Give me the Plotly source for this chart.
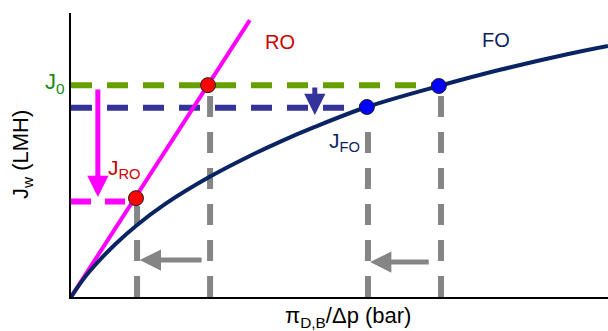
import plotly.graph_objects as go

# ---- data (arbitrary units, x: 0..10, y: 0..10) ----
fo_x = [0, 0.26, 0.51, 0.82, 1.22, 1.75, 2.59, 3.30, 3.92, 4.54, 5.51, 6.85, 7.99, 9.24, 10.0]
fo_y = [0, 0.70, 1.25, 1.85, 2.52, 3.27, 4.24, 4.94, 5.49, 5.99, 6.69, 7.43, 8.00, 8.55, 8.84]
ro_x = [0, 3.33]
ro_y = [0, 9.75]

J0 = 7.46
JFO = 6.66
JRO = 3.36
ro_pts_x = [2.55, 1.21]
ro_pts_y = [7.46, 3.48]
fo_pts_x = [6.85, 5.51]
fo_pts_y = [7.43, 6.69]

gray_x = [1.23, 2.59, 5.53, 6.89]
gray_top = [3.2, 7.1, 6.34, 7.1]

W, H = 608, 331
fig = go.Figure()

GRAY = "#858585"
DASH = "21px,15px"

# gray vertical dashed lines (drawn from the axis upward)
for gx, gt in zip(gray_x, gray_top):
    fig.add_trace(go.Scatter(x=[gx, gx], y=[0, gt], mode="lines",
                             line=dict(color=GRAY, width=6, dash=DASH),
                             hoverinfo="skip"))

# horizontal dashed lines
fig.add_trace(go.Scatter(x=[0, fo_pts_x[0]], y=[J0, J0], mode="lines",
                         line=dict(color="#66a000", width=6, dash=DASH)))
fig.add_trace(go.Scatter(x=[0, fo_pts_x[1]], y=[JFO, JFO], mode="lines",
                         line=dict(color="#333399", width=6, dash=DASH)))
fig.add_trace(go.Scatter(x=[0, 1.1], y=[JRO, JRO], mode="lines",
                         line=dict(color="#ff00ff", width=6, dash="20px,14px")))

# curves
fig.add_trace(go.Scatter(x=ro_x, y=ro_y, mode="lines",
                         line=dict(color="#ff00ff", width=4)))
fig.add_trace(go.Scatter(x=fo_x, y=fo_y, mode="lines",
                         line=dict(color="#0a2463", width=4, shape="spline",
                                   smoothing=1)))

# points
fig.add_trace(go.Scatter(x=ro_pts_x, y=ro_pts_y, mode="markers",
                         marker=dict(color="#ff0000", size=15,
                                     line=dict(color="#202020", width=1))))
fig.add_trace(go.Scatter(x=fo_pts_x, y=fo_pts_y, mode="markers",
                         marker=dict(color="#0000ff", size=15,
                                     line=dict(color="#202020", width=1))))

FONT = "Liberation Sans, Arial, sans-serif"

def arrow(x0, y0, x1, y1, color):
    fig.add_annotation(x=x1, y=y1, ax=x0, ay=y0, xref="x", yref="y",
                       axref="x", ayref="y", text="", showarrow=True,
                       arrowhead=2, arrowsize=0.85, arrowwidth=5,
                       arrowcolor=color, standoff=0, startstandoff=0)

arrow(2.46, 1.30, 1.28, 1.30, GRAY)
arrow(6.69, 1.23, 5.57, 1.23, GRAY)
arrow(0.50, 7.36, 0.50, 3.52, "#ff00ff")
arrow(4.54, 7.43, 4.54, 6.41, "#333399")

def label(text, x, y, color, size=20, xref="x", yref="y", angle=0):
    fig.add_annotation(x=x, y=y, xref=xref, yref=yref, text=text,
                       showarrow=False, textangle=angle,
                       xanchor="center", yanchor="middle",
                       font=dict(family=FONT, size=size, color=color))

label("RO", 3.89, 8.98, "#cc0000")
label("FO", 7.92, 9.05, "#0a2463")
label("J<sub>RO</sub>", 1.0, 4.5, "#cc0000", size=21)
label("J<sub>FO</sub>", 5.1, 5.45, "#0a2463", size=21)
label("J<sub>0</sub>", (55 - 71) / 537, 7.55, "#1a8a1a", size=22, xref="paper")
label("J<sub>w</sub> (LMH)", (22 - 71) / 537, 5.0, "#000000", size=22,
      xref="paper", angle=-90)
label("\u03c0<sub>D,B</sub>/\u0394p (bar)", 5.16, -20 / 284, "#000000",
      size=22, yref="paper")

fig.update_layout(
    width=W, height=H, showlegend=False,
    margin=dict(l=71, r=0, t=13, b=34),
    plot_bgcolor="white", paper_bgcolor="white",
    xaxis=dict(range=[0, 10], showgrid=False, zeroline=False, showticklabels=False,
               ticks="", showline=True, linecolor="black", linewidth=2),
    yaxis=dict(range=[0, 10], showgrid=False, zeroline=False, showticklabels=False,
               ticks="", showline=True, linecolor="black", linewidth=2),
)

fig.write_html("out.html")
